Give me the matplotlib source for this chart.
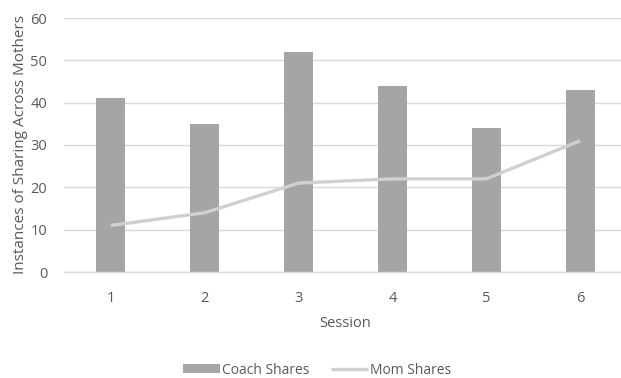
import numpy as np
import matplotlib.pyplot as plt

sessions = [1, 2, 3, 4, 5, 6]
coach_shares = [41, 35, 52, 44, 34, 43]
mom_shares = [11, 14, 21, 22, 22, 31]
y_ticks = [0, 10, 20, 30, 40, 50, 60]

plt.rcParams['font.family'] = ['Open Sans', 'DejaVu Sans']
text_col = '#595959'

fig = plt.figure(figsize=(6.21, 3.78), dpi=100)
ax = fig.add_axes([64 / 621, 106 / 378, 563 / 621, 254 / 378])

x = np.arange(len(sessions))
bars = ax.bar(x, coach_shares, width=0.31, color='#a5a5a5', label='Coach Shares', zorder=2)
line, = ax.plot(x, mom_shares, color='#d0d0d0', lw=2.4, solid_capstyle='butt',
                label='Mom Shares', zorder=3)

ax.set_xlim(-0.5, len(sessions) - 0.5)
ax.set_ylim(0, 60)
ax.set_yticks(y_ticks)
ax.set_xticks(x)
ax.set_xticklabels([str(s) for s in sessions])
ax.yaxis.grid(True, color='#d9d9d9', lw=1, zorder=0)
ax.set_axisbelow(True)
for side in ['top', 'right', 'left']:
    ax.spines[side].set_visible(False)
ax.spines['bottom'].set_color('#d9d9d9')
ax.spines['bottom'].set_linewidth(1)
ax.tick_params(length=0, colors=text_col, labelsize=10.5)
ax.tick_params(axis='y', pad=12)
ax.tick_params(axis='x', pad=14)

ax.set_xlabel('Session', color=text_col, fontsize=10.5, labelpad=7)
ax.set_ylabel('Instances of Sharing Across Mothers', color=text_col, fontsize=11, labelpad=2)

leg = fig.legend([bars, line], ['Coach Shares', 'Mom Shares'], loc='center',
                 bbox_to_anchor=(317 / 621, 1 - 370 / 378), ncol=2,
                 frameon=False, fontsize=10, handlelength=2.7, handleheight=0.55,
                 columnspacing=1.5, handletextpad=0.15)
for t in leg.get_texts():
    t.set_color(text_col)

fig.savefig('out.png', dpi=100)
